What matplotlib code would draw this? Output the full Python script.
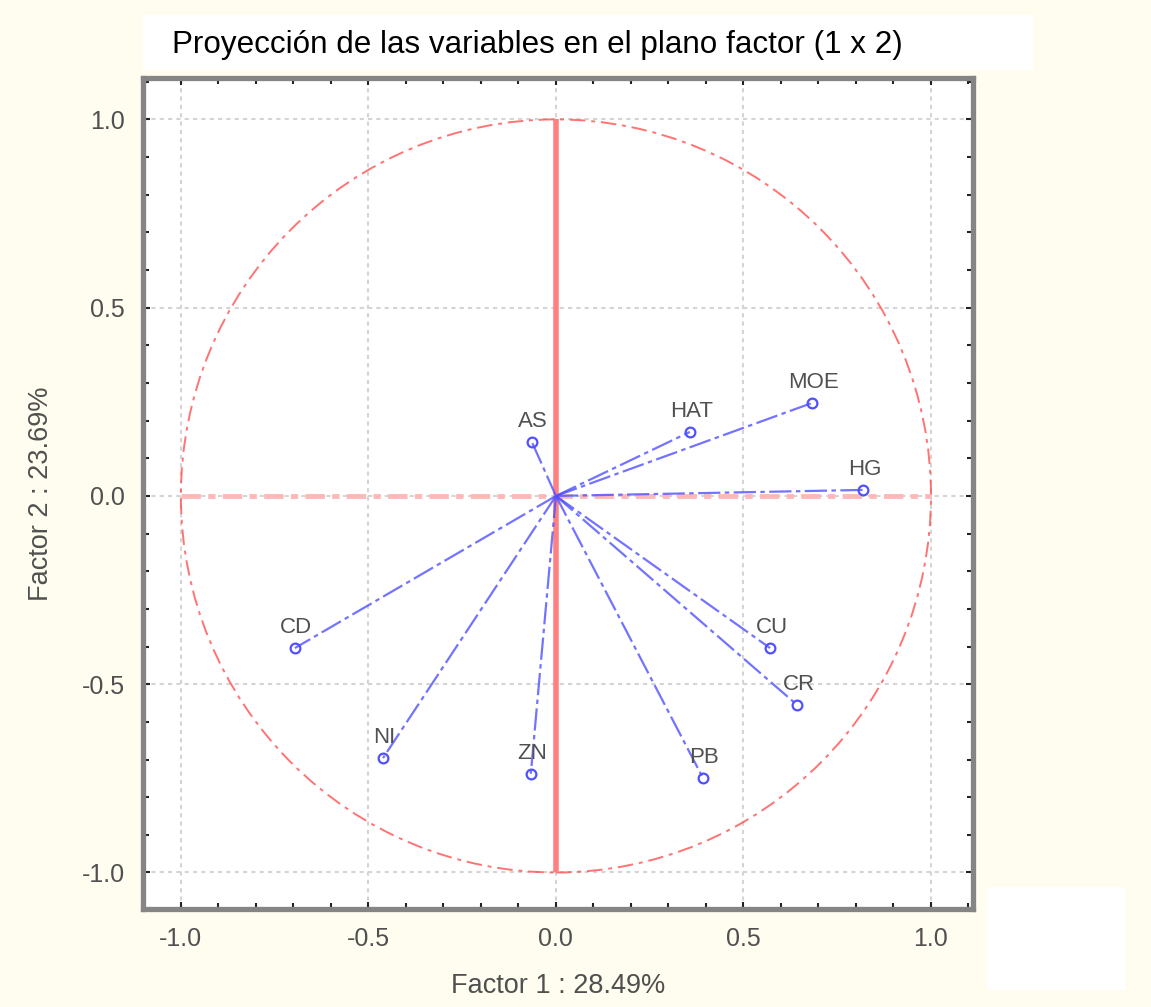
import matplotlib
matplotlib.use("Agg")
import matplotlib.pyplot as plt
from matplotlib.patches import Circle, Rectangle
from matplotlib.ticker import MultipleLocator, FormatStrFormatter

plt.rcParams['font.family'] = ['Liberation Sans', 'DejaVu Sans']

# Variable loadings on factors 1 and 2
variables = ["AS", "HAT", "MOE", "HG", "CU", "CR", "PB", "ZN", "NI", "CD"]
factor1 = [-0.064, 0.357, 0.683, 0.819, 0.571, 0.643, 0.392, -0.067, -0.461, -0.696]
factor2 = [0.143, 0.170, 0.247, 0.016, -0.404, -0.555, -0.749, -0.738, -0.696, -0.404]

title = "Proyección de las variables en el plano factor (1 x 2)"
xlabel = "Factor 1 : 28.49%"
ylabel = "Factor 2 : 23.69%"

BG = "#FFFCF0"
TEXT = "#505050"

fig = plt.figure(figsize=(11.51, 10.07), dpi=100, facecolor=BG)

# White boxes behind the title and in the lower-right corner
fig.patches.append(Rectangle((143 / 1151, 1 - 70 / 1007), 890 / 1151, 55 / 1007,
                             transform=fig.transFigure, fc="white", ec="none", zorder=0))
fig.patches.append(Rectangle((988 / 1151, 1 - 990 / 1007), 137 / 1151, 103 / 1007,
                             transform=fig.transFigure, fc="white", ec="none", zorder=0))
fig.text(172 / 1151, 1 - 45 / 1007, title, fontsize=22.6, color="black",
         ha="left", va="center")

ax = fig.add_axes([143 / 1151, 1 - 909 / 1007, 830 / 1151, 831 / 1007])
ax.set_facecolor("white")
ax.set_xlim(-1.101, 1.112)
ax.set_ylim(-1.097, 1.110)

for sp in ax.spines.values():
    sp.set_color("#858585")
    sp.set_linewidth(3.8)

ax.xaxis.set_major_locator(MultipleLocator(0.5))
ax.yaxis.set_major_locator(MultipleLocator(0.5))
ax.xaxis.set_minor_locator(MultipleLocator(0.1))
ax.yaxis.set_minor_locator(MultipleLocator(0.1))
ax.xaxis.set_major_formatter(FormatStrFormatter("%.1f"))
ax.yaxis.set_major_formatter(FormatStrFormatter("%.1f"))
ax.tick_params(which="both", direction="in", color="#222222", width=1.5,
               top=True, right=True)
ax.tick_params(which="major", length=5, labelsize=18, labelcolor=TEXT, pad=13)
ax.tick_params(which="minor", length=4)
ax.grid(True, which="major", color="#d4d4d4", linestyle=(0, (2, 2)), linewidth=1.5)
ax.set_axisbelow(True)

ax.set_xlabel(xlabel, fontsize=19.5, color=TEXT, labelpad=16)
ax.set_ylabel(ylabel, fontsize=19.5, color=TEXT, labelpad=20)

# Unit circle and reference axes
ax.add_patch(Circle((0, 0), 1.0, fill=False, ec="#ff5050", lw=1.4, alpha=0.8,
                    linestyle=(0, (8, 3, 2, 3)), zorder=2))
ax.plot([0, 0], [-1, 1], color="#ff8080", lw=4, solid_capstyle="butt", zorder=2)
ax.plot([-1, 1], [0, 0], color="#ffb8b8", lw=3.5, linestyle=(0, (4, 1.5, 1.5, 1.5)), zorder=2)

# Vectors from the origin to each variable
for name, x, y in zip(variables, factor1, factor2):
    ax.plot([0, x], [0, y], color="#5050ff", lw=1.6, alpha=0.8,
            linestyle=(0, (10, 2, 2, 2)), zorder=3)
    ax.plot([x], [y], marker="o", ms=7, mfc="none", mec="#5050ff", mew=1.6, zorder=4)
    ax.annotate(name, (x, y), xytext=(1, 7), textcoords="offset points",
                ha="center", va="bottom", fontsize=16, color=TEXT, zorder=5)

fig.savefig("out.png", dpi=100, facecolor=BG)
